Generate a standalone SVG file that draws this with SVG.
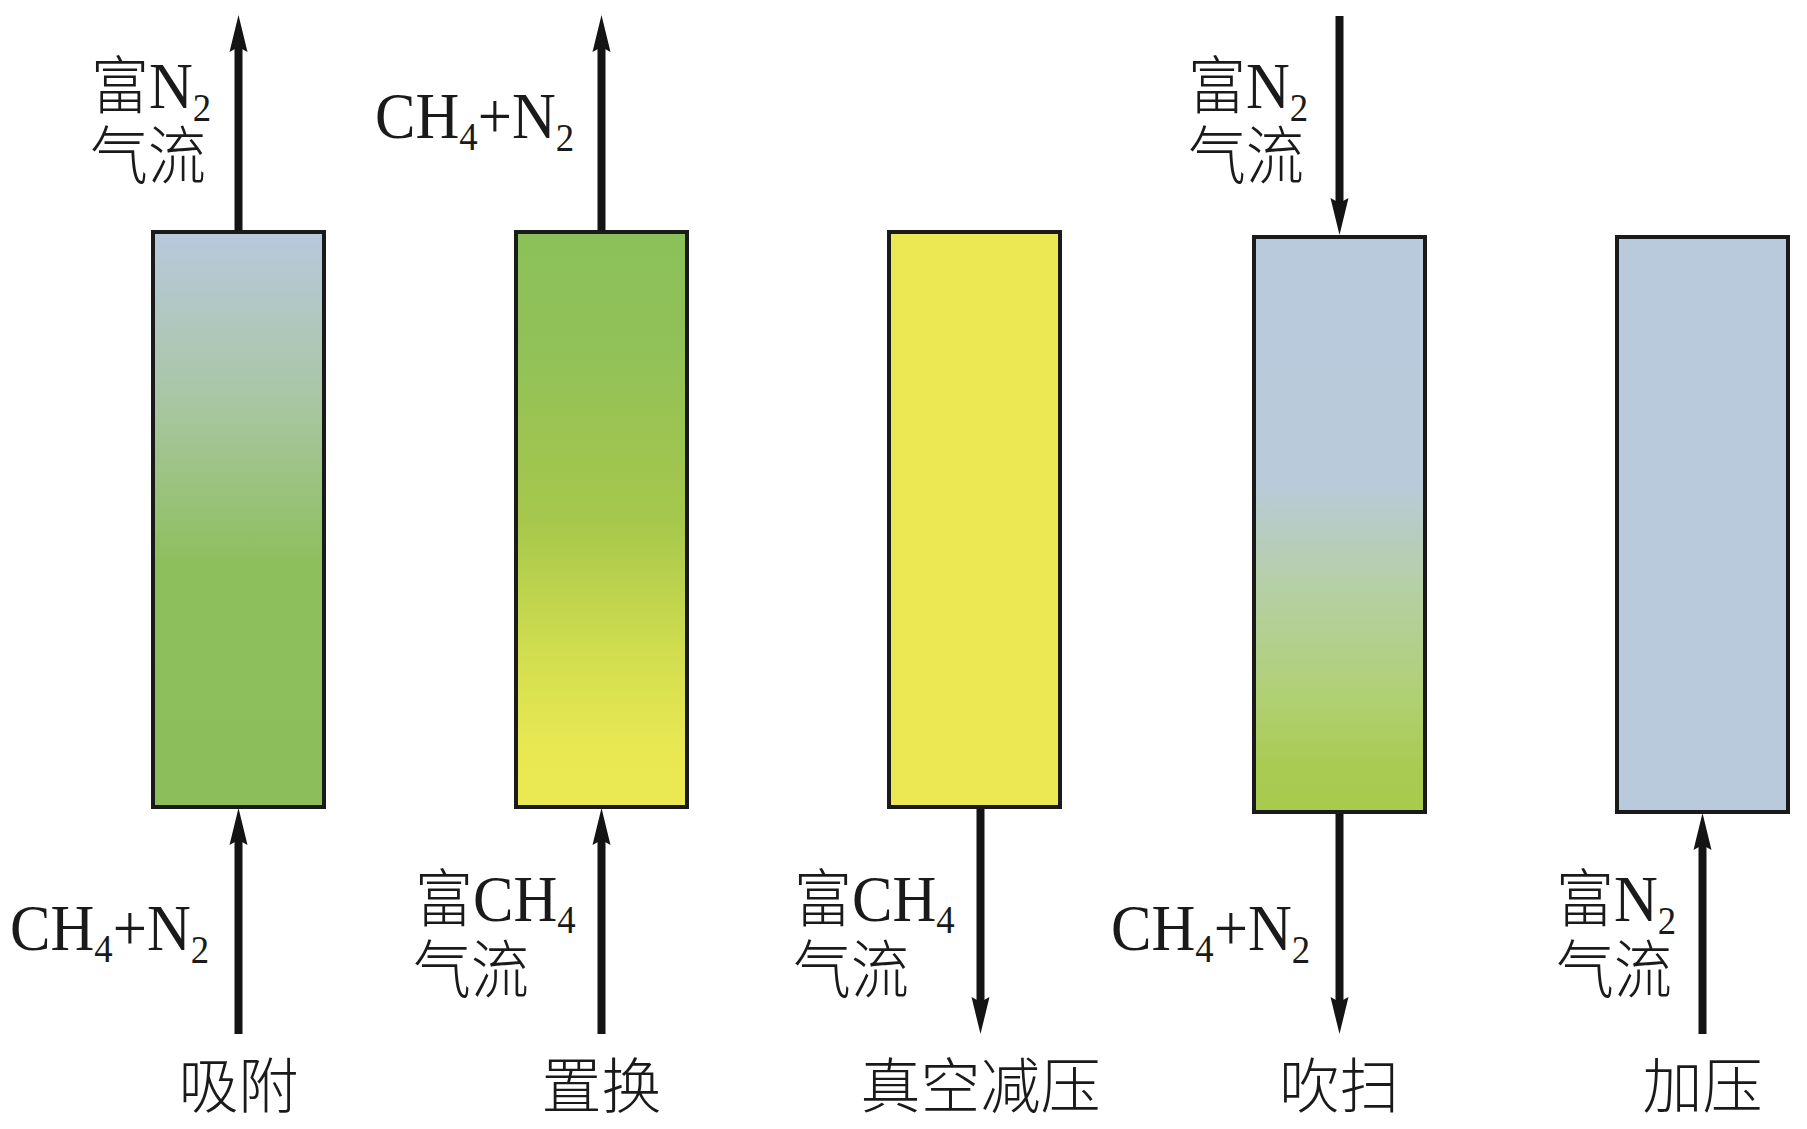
<svg xmlns="http://www.w3.org/2000/svg" width="1807" height="1129" viewBox="0 0 1807 1129">
<style>
.box{stroke:#1a1a1a;stroke-width:4}
.arr{stroke:#141414;stroke-width:8;fill:none;marker-end:url(#ah)}
.t{font-family:'Liberation Serif','Noto Sans CJK SC',serif;font-size:66px;fill:#1a1a1a}
.c{font-family:'Noto Sans CJK SC',sans-serif;font-size:63px;font-weight:300}
.s{font-size:40px}
.title{font-family:'Noto Sans CJK SC',sans-serif;font-size:60px;font-weight:300;fill:#1a1a1a;text-anchor:middle}
</style>
<defs>
<marker id="ah" viewBox="0 -10 40 20" markerWidth="40" markerHeight="20" refX="15" refY="0" orient="auto" markerUnits="userSpaceOnUse">
<path d="M0,-9 L37,0 L0,9 L5,0 Z" fill="#141414"/>
</marker>
<linearGradient id="g1" x1="0" y1="0" x2="0" y2="1">
<stop offset="0" stop-color="#b8c9dd"/>
<stop offset="0.3" stop-color="#a8c6a2"/>
<stop offset="0.58" stop-color="#8dbf5c"/>
<stop offset="1" stop-color="#8cbf5b"/>
</linearGradient>
<linearGradient id="g2" x1="0" y1="0" x2="0" y2="1">
<stop offset="0" stop-color="#8bc05a"/>
<stop offset="0.2" stop-color="#91c158"/>
<stop offset="0.5" stop-color="#a6c74c"/>
<stop offset="0.75" stop-color="#d4df4f"/>
<stop offset="0.9" stop-color="#e9e852"/>
<stop offset="1" stop-color="#ebe853"/>
</linearGradient>
<linearGradient id="g4" x1="0" y1="0" x2="0" y2="1">
<stop offset="0" stop-color="#b9cadd"/>
<stop offset="0.42" stop-color="#b9cadb"/>
<stop offset="0.6" stop-color="#b6cfa8"/>
<stop offset="0.8" stop-color="#b0d074"/>
<stop offset="0.92" stop-color="#a9cb52"/>
<stop offset="1" stop-color="#a8ca4e"/>
</linearGradient>
</defs>

<g id="connectors">
<line class="arr" x1="238.5" y1="232" x2="238.5" y2="37"/>
<line class="arr" x1="238.5" y1="1034" x2="238.5" y2="830"/>
<line class="arr" x1="601.5" y1="232" x2="601.5" y2="37"/>
<line class="arr" x1="601.5" y1="1034" x2="601.5" y2="830"/>
<line class="arr" x1="980.5" y1="807" x2="980.5" y2="1012"/>
<line class="arr" x1="1339.5" y1="16" x2="1339.5" y2="213"/>
<line class="arr" x1="1339.5" y1="812" x2="1339.5" y2="1012"/>
<line class="arr" x1="1702.5" y1="1034" x2="1702.5" y2="835"/>
</g>

<g id="node-adsorption">
<rect class="box" x="153" y="232" width="171" height="575" fill="url(#g1)"/>
<text class="title" x="238.5" y="1108">吸附</text>
</g>
<g id="node-replacement">
<rect class="box" x="516" y="232" width="171" height="575" fill="url(#g2)"/>
<text class="title" x="601.5" y="1108">置换</text>
</g>
<g id="node-vacuum">
<rect class="box" x="889" y="232" width="171" height="575" fill="#ebe853"/>
<text class="title" x="980.5" y="1108">真空减压</text>
</g>
<g id="node-purge">
<rect class="box" x="1254" y="237" width="171" height="575" fill="url(#g4)"/>
<text class="title" x="1339.5" y="1108">吹扫</text>
</g>
<g id="node-pressurize">
<rect class="box" x="1617" y="237" width="171" height="575" fill="#b9cadc"/>
<text class="title" x="1702.5" y="1108">加压</text>
</g>

<g id="labels">
<text class="t" transform="translate(91,108) scale(0.92,1)"><tspan class="c">富</tspan>N<tspan class="s" dy="13">2</tspan></text>
<text class="t" transform="translate(90,178) scale(0.92,1)"><tspan class="c">气流</tspan></text>

<text class="t" transform="translate(375,138) scale(0.92,1)">CH<tspan class="s" dy="12">4</tspan><tspan dy="-12">+N</tspan><tspan class="s" dy="13">2</tspan></text>

<text class="t" transform="translate(10,950) scale(0.92,1)">CH<tspan class="s" dy="12">4</tspan><tspan dy="-12">+N</tspan><tspan class="s" dy="13">2</tspan></text>

<text class="t" transform="translate(415,921) scale(0.92,1)"><tspan class="c">富</tspan>CH<tspan class="s" dy="12">4</tspan></text>
<text class="t" transform="translate(413,992) scale(0.92,1)"><tspan class="c">气流</tspan></text>

<text class="t" transform="translate(794,921) scale(0.92,1)"><tspan class="c">富</tspan>CH<tspan class="s" dy="12">4</tspan></text>
<text class="t" transform="translate(793,992) scale(0.92,1)"><tspan class="c">气流</tspan></text>

<text class="t" transform="translate(1188,108) scale(0.92,1)"><tspan class="c">富</tspan>N<tspan class="s" dy="13">2</tspan></text>
<text class="t" transform="translate(1188,178) scale(0.92,1)"><tspan class="c">气流</tspan></text>

<text class="t" transform="translate(1111,950) scale(0.92,1)">CH<tspan class="s" dy="12">4</tspan><tspan dy="-12">+N</tspan><tspan class="s" dy="13">2</tspan></text>

<text class="t" transform="translate(1556,921) scale(0.92,1)"><tspan class="c">富</tspan>N<tspan class="s" dy="13">2</tspan></text>
<text class="t" transform="translate(1556,992) scale(0.92,1)"><tspan class="c">气流</tspan></text>
</g>
</svg>
